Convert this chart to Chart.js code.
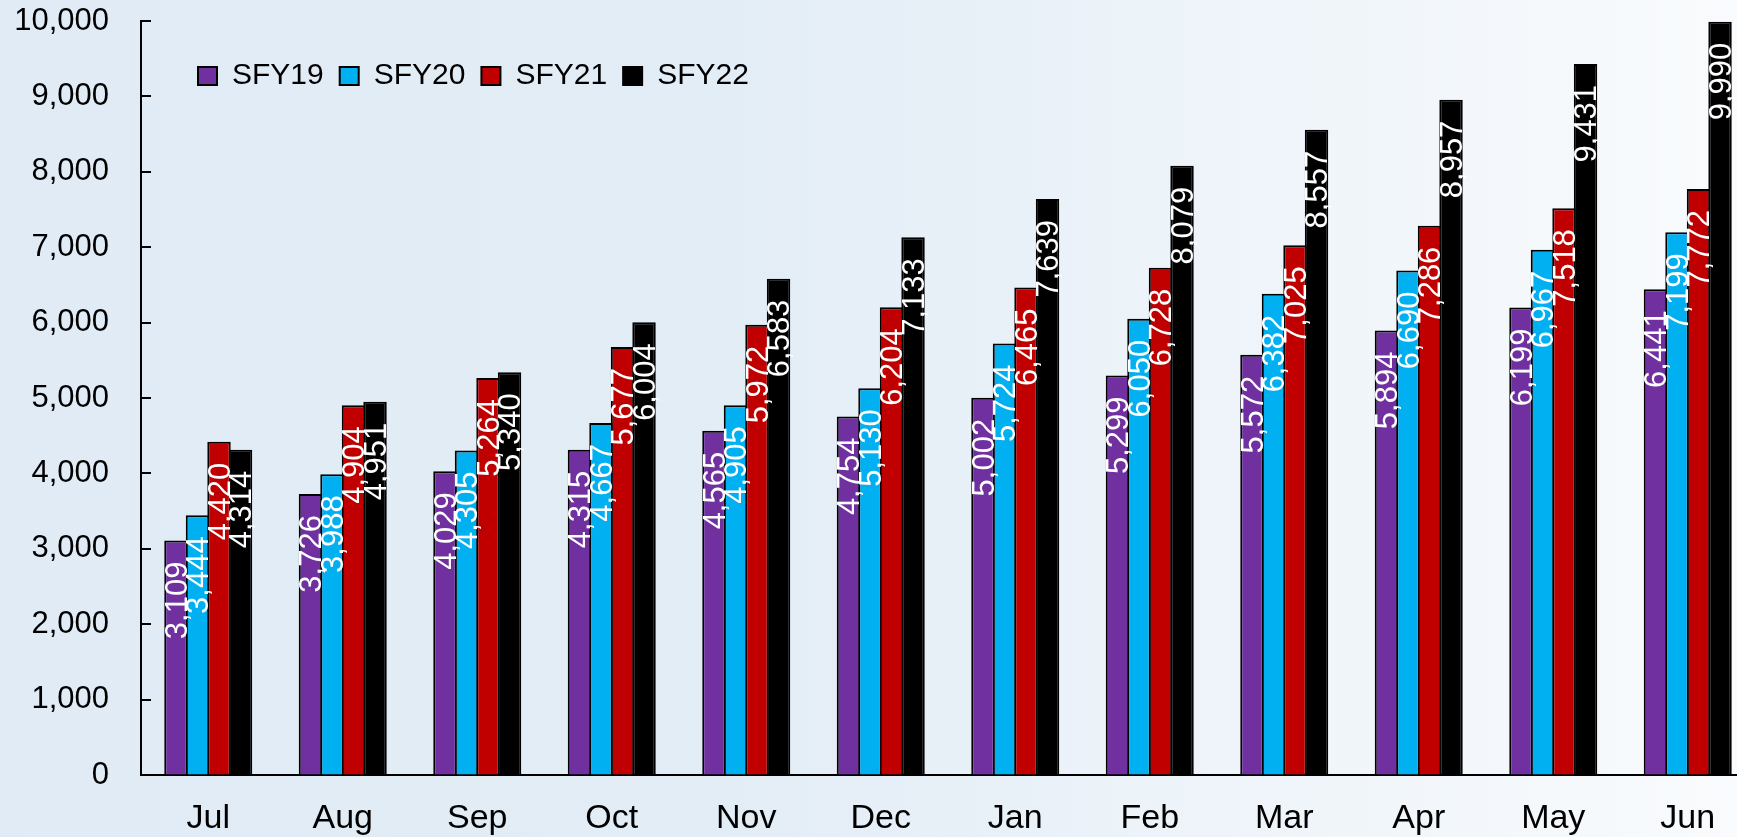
<!DOCTYPE html>
<html>
<head>
<meta charset="utf-8">
<script src="https://cdn.jsdelivr.net/npm/chart.js@4"></script>
<style>
  html, body { margin: 0; padding: 0; overflow: hidden; width: 1737px; height: 837px; }
  body { background: linear-gradient(to right, #E1EBF5 0%, #E3EDF6 42%, #F9FBFD 100%); }
  #wrap { position: absolute; left: 0; top: 0; width: 1756px; height: 837px; }
</style>
</head>
<body>
<div id="wrap"><canvas id="c" width="1756" height="837"></canvas></div>
<script>
const categories = ['Jul','Aug','Sep','Oct','Nov','Dec','Jan','Feb','Mar','Apr','May','Jun'];
const seriesNames = ['SFY19','SFY20','SFY21','SFY22'];
const sfy19 = [3109, 3726, 4029, 4315, 4565, 4754, 5002, 5299, 5572, 5894, 6199, 6441];
const sfy20 = [3444, 3988, 4305, 4667, 4905, 5130, 5724, 6050, 6382, 6690, 6967, 7199];
const sfy21 = [4420, 4904, 5264, 5677, 5972, 6204, 6465, 6728, 7025, 7286, 7518, 7772];
const sfy22 = [4314, 4951, 5340, 6004, 6583, 7133, 7639, 8079, 8557, 8957, 9431, 9990];
const yTicks = [0,1000,2000,3000,4000,5000,6000,7000,8000,9000,10000];

const colors = ['#7030A0', '#00B0F0', '#C00000', '#000000'];
const FONT = "'Liberation Sans', Arial, sans-serif";
const fmt = v => Number(v).toLocaleString('en-US');

const datasets = [sfy19, sfy20, sfy21, sfy22].map((d, i) => ({
  label: seriesNames[i],
  data: d,
  backgroundColor: colors[i],
  borderColor: '#000000',
  borderWidth: 2,
  borderSkipped: 'bottom',
  categoryPercentage: 0.64,
  barPercentage: 1.09
}));

const labelPlugin = {
  id: 'barLabels',
  afterDatasetsDraw(chart) {
    const ctx = chart.ctx;
    ctx.save();
    ctx.font = '31px ' + FONT;
    ctx.fillStyle = '#FFFFFF';
    ctx.textAlign = 'right';
    ctx.textBaseline = 'alphabetic';
    chart.data.datasets.forEach((ds, di) => {
      const meta = chart.getDatasetMeta(di);
      meta.data.forEach((bar, i) => {
        const p = bar.getProps(['x', 'y', 'width'], true);
        ctx.save();
        ctx.translate(p.x + p.width / 2 - 1, p.y + 21);
        ctx.rotate(-Math.PI / 2);
        ctx.fillText(fmt(ds.data[i]), 0, 0);
        ctx.restore();
      });
    });
    ctx.restore();
  }
};

const innerTicks = {
  id: 'innerTicks',
  afterDraw(chart) {
    const y = chart.scales.y;
    const ctx = chart.ctx;
    const left = chart.chartArea.left;
    ctx.save();
    ctx.strokeStyle = '#000';
    ctx.lineWidth = 2;
    y.ticks.forEach(t => {
      if (t.value === 0) return;
      const py = Math.round(y.getPixelForValue(t.value));
      ctx.beginPath();
      ctx.moveTo(left - 1, py);
      ctx.lineTo(left + 10, py);
      ctx.stroke();
    });
    ctx.restore();
  }
};

const legendInside = {
  id: 'legendInside',
  beforeUpdate(chart) {
    if (chart.legend) chart.legend.isHorizontal = () => true;
  },
  afterLayout(chart) {
    const lg = chart.legend;
    if (!lg) return;
    const w = lg.width;
    lg.left = chart.chartArea.left + 41;
    lg.right = lg.left + w;
    lg.top = chart.chartArea.top + 24;
    lg.bottom = lg.top + lg.height;
  }
};

new Chart(document.getElementById('c'), {
  type: 'bar',
  data: { labels: categories, datasets },
  plugins: [labelPlugin, innerTicks, legendInside],
  options: {
    responsive: false,
    animation: false,
    devicePixelRatio: 1,
    layout: { padding: { top: 21, right: 1, left: 0, bottom: 0 } },
    plugins: {
      tooltip: { enabled: false },
      legend: {
        position: 'chartArea',
        align: 'start',
        labels: {
          boxWidth: 19,
          boxHeight: 18,
          padding: 16,
          color: '#000',
          font: { family: FONT, size: 30 }
        }
      }
    },
    scales: {
      x: {
        grid: { display: true, drawOnChartArea: false, drawTicks: false },
        border: { display: true, color: '#000', width: 2 },
        ticks: { color: '#000', padding: 23, font: { family: FONT, size: 34 }, maxRotation: 0 },
        afterFit(s) { s.height = 62; }
      },
      y: {
        min: 0,
        max: 10000,
        afterBuildTicks(s) { s.ticks = yTicks.map(v => ({ value: v })); },
        grid: { display: true, drawOnChartArea: false, drawTicks: true, tickLength: 32, tickColor: 'rgba(0,0,0,0)' },
        border: { display: true, color: '#000', width: 2 },
        ticks: { color: '#000', padding: 0, font: { family: FONT, size: 31 }, callback: v => fmt(v) },
        afterFit(s) { s.width = 141; }
      }
    }
  }
});
</script>
</body>
</html>
